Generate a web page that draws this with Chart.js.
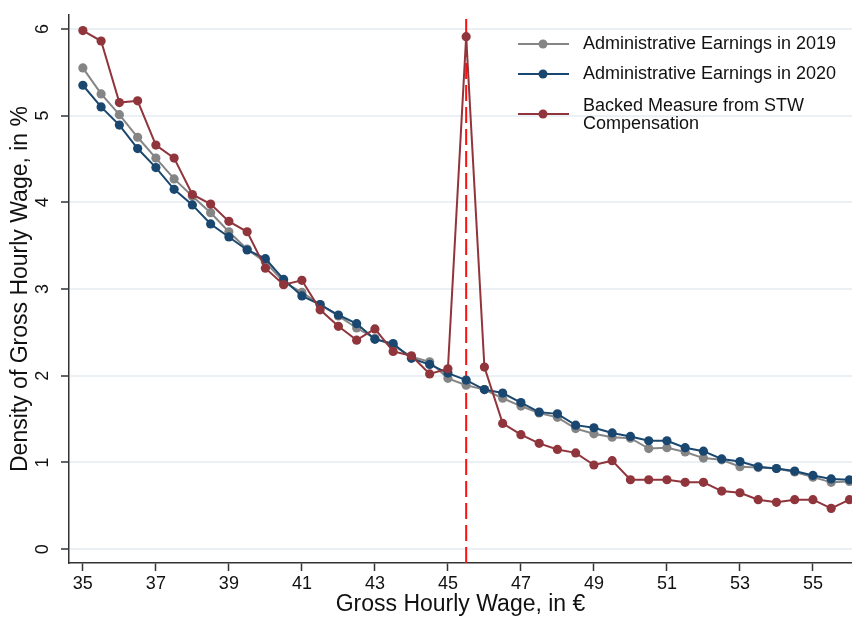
<!DOCTYPE html>
<html>
<head>
<meta charset="utf-8">
<script src="https://cdn.jsdelivr.net/npm/chart.js@4/dist/chart.umd.min.js"></script>
<style>
  html, body { margin: 0; padding: 0; background: #ffffff; }
  #wrap { width: 852px; height: 617px; }
</style>
</head>
<body>
<div id="wrap"><canvas id="c" width="852" height="617"></canvas></div>
<script>
const wages = [35, 35.5, 36, 36.5, 37, 37.5, 38, 38.5, 39, 39.5, 40, 40.5, 41, 41.5, 42, 42.5, 43, 43.5, 44, 44.5, 45, 45.5, 46, 46.5, 47, 47.5, 48, 48.5, 49, 49.5, 50, 50.5, 51, 51.5, 52, 52.5, 53, 53.5, 54, 54.5, 55, 55.5, 56];
const earnings2019 = [5.55, 5.25, 5.01, 4.75, 4.51, 4.27, 4.07, 3.88, 3.66, 3.46, 3.31, 3.08, 2.96, 2.82, 2.69, 2.55, 2.43, 2.35, 2.22, 2.16, 1.97, 1.89, 1.84, 1.74, 1.65, 1.57, 1.52, 1.39, 1.33, 1.29, 1.28, 1.16, 1.17, 1.12, 1.05, 1.03, 0.95, 0.94, 0.93, 0.89, 0.83, 0.77, 0.78];
const earnings2020 = [5.35, 5.10, 4.89, 4.62, 4.40, 4.15, 3.97, 3.75, 3.60, 3.45, 3.35, 3.11, 2.92, 2.82, 2.70, 2.60, 2.42, 2.37, 2.20, 2.13, 2.03, 1.95, 1.84, 1.80, 1.69, 1.58, 1.56, 1.43, 1.40, 1.34, 1.30, 1.25, 1.25, 1.17, 1.13, 1.04, 1.01, 0.95, 0.93, 0.90, 0.85, 0.81, 0.80];
const backedSTW = [5.98, 5.86, 5.15, 5.17, 4.66, 4.51, 4.09, 3.98, 3.78, 3.66, 3.24, 3.05, 3.10, 2.76, 2.57, 2.41, 2.54, 2.28, 2.23, 2.02, 2.08, 5.91, 2.10, 1.45, 1.32, 1.22, 1.15, 1.11, 0.97, 1.02, 0.80, 0.80, 0.80, 0.77, 0.77, 0.67, 0.65, 0.57, 0.54, 0.57, 0.57, 0.47, 0.57];
const xTicks = [35, 37, 39, 41, 43, 45, 47, 49, 51, 53, 55];
const yTicks = [0, 1, 2, 3, 4, 5, 6];
const seriesLabels = ['Administrative Earnings in 2019', 'Administrative Earnings in 2020', ['Backed Measure from STW', 'Compensation']];
const thresholdWage = 45.5;

const FONT = "'Liberation Sans', Arial, sans-serif";
const GRAY = '#858585', BLUE = '#1a476f', RED = '#90353b';

function pts(vals) { return wages.map((w, i) => ({ x: w, y: vals[i] })); }

function ds(label, vals, color, order) {
  return {
    label: label, data: pts(vals), borderColor: color, backgroundColor: color,
    pointBackgroundColor: color, pointBorderColor: color, borderWidth: 2,
    pointRadius: 4.6, pointHoverRadius: 4.6, pointBorderWidth: 0, tension: 0, order: order
  };
}

const thresholdPlugin = {
  id: 'threshold',
  beforeDatasetsDraw(chart) {
    const { ctx, chartArea, scales } = chart;
    const x = scales.x.getPixelForValue(thresholdWage);
    ctx.save();
    ctx.strokeStyle = '#ff1010';
    ctx.lineWidth = 2;
    ctx.setLineDash([16, 6]);
    ctx.beginPath();
    ctx.moveTo(x, chartArea.top + 4);
    ctx.lineTo(x, chartArea.bottom);
    ctx.stroke();
    ctx.restore();
  }
};

const legendPlugin = {
  id: 'insideLegend',
  afterDraw(chart) {
    const { ctx } = chart;
    const rows = [44, 74, 114];
    const colors = [GRAY, BLUE, RED];
    ctx.save();
    ctx.font = '18px ' + FONT;
    ctx.textBaseline = 'middle';
    ctx.textAlign = 'left';
    seriesLabels.forEach((lab, i) => {
      const y = rows[i];
      ctx.strokeStyle = colors[i];
      ctx.lineWidth = 2;
      ctx.beginPath();
      ctx.moveTo(518, y);
      ctx.lineTo(569, y);
      ctx.stroke();
      ctx.fillStyle = colors[i];
      ctx.beginPath();
      ctx.arc(543, y, 4.5, 0, Math.PI * 2);
      ctx.fill();
      ctx.fillStyle = '#111111';
      if (Array.isArray(lab)) {
        ctx.fillText(lab[0], 583, y - 8);
        ctx.fillText(lab[1], 583, y + 10);
      } else {
        ctx.fillText(lab, 583, y);
      }
    });
    ctx.restore();
  }
};

new Chart(document.getElementById('c'), {
  type: 'line',
  data: {
    datasets: [
      ds(seriesLabels[0], earnings2019, GRAY, 3),
      ds(seriesLabels[1], earnings2020, BLUE, 2),
      ds(seriesLabels[2].join(' '), backedSTW, RED, 1)
    ]
  },
  options: {
    responsive: false,
    animation: false,
    layout: { autoPadding: false, padding: { top: 15, right: 0, left: 0, bottom: 0 } },
    plugins: { legend: { display: false }, tooltip: { enabled: false } },
    scales: {
      x: {
        type: 'linear',
        min: 34.62, max: 56.07,
        afterBuildTicks: (s) => { s.ticks = xTicks.map(v => ({ value: v })); },
        afterFit: (s) => { s.height = 54; },
        grid: { display: true, drawOnChartArea: false, drawTicks: true, tickLength: 8, tickColor: '#333333', tickWidth: 1.5 },
        border: { display: true, color: '#333333', width: 1.5 },
        ticks: { color: '#111111', font: { family: FONT, size: 18 }, padding: 2, maxRotation: 0, minRotation: 0,
                 callback: (v) => String(v) },
        title: { display: true, text: 'Gross Hourly Wage, in €', color: '#111111', font: { family: FONT, size: 23, lineHeight: 1 }, padding: { top: 0, bottom: 1 } }
      },
      y: {
        type: 'linear',
        min: -0.16, max: 6.16,
        afterBuildTicks: (s) => { s.ticks = yTicks.map(v => ({ value: v })); },
        afterFit: (s) => { s.width = 69; },
        grid: { display: true, drawOnChartArea: true, color: '#eaf0f4', lineWidth: 2, drawTicks: true, tickLength: 8, tickColor: '#333333', tickWidth: 1.5 },
        border: { display: true, color: '#333333', width: 1.5 },
        ticks: { color: '#111111', font: { family: FONT, size: 18, lineHeight: 0.2 }, padding: 13, crossAlign: 'center', minRotation: 90, maxRotation: 90,
                 callback: (v) => String(v) },
        title: { display: true, text: 'Density of Gross Hourly Wage, in %', color: '#111111', font: { family: FONT, size: 23 }, padding: { top: 7, bottom: 0 } }
      }
    }
  },
  plugins: [thresholdPlugin, legendPlugin]
});
</script>
</body>
</html>
